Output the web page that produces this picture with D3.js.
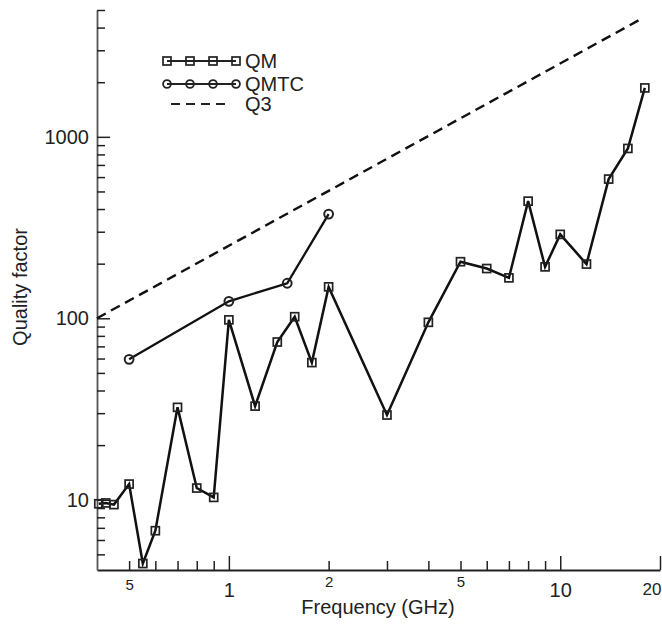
<!DOCTYPE html>
<html>
<head>
<meta charset="utf-8">
<script src="https://cdn.jsdelivr.net/npm/d3@7"></script>
<style>
  html, body { margin: 0; padding: 0; background: #fff; }
  svg { display: block; font-family: "Liberation Sans", Arial, Helvetica, sans-serif; }
</style>
</head>
<body>
<svg id="chart" width="662" height="635"></svg>
<script>
// ---- data ----
const qmFreq   = [0.405, 0.425, 0.45, 0.5, 0.55, 0.6, 0.7, 0.8, 0.9, 1.0, 1.2, 1.4, 1.58, 1.78, 2.0, 3.0, 4.0, 5.0, 6.0, 7.0, 8.0, 9.0, 10, 12, 14, 16, 18];
const qmValues = [9.5, 9.6, 9.4, 12.2, 4.45, 6.75, 32.3, 11.6, 10.3, 98, 32.8, 74, 102, 57, 149, 29.3, 95, 205, 188, 167, 442, 192, 290, 199, 585, 863, 1860];

const qmtcFreq   = [0.5, 1.0, 1.5, 2.0];
const qmtcValues = [59.4, 124, 156, 375];

const q3Freq   = [0.4, 17.65];
const q3Values = [100, 4490];

const xTickValues = [0.5, 0.6, 0.7, 0.8, 0.9, 1, 2, 3, 4, 5, 6, 7, 8, 9, 10, 20];
const xTickLabels = {0.5: "5", 1: "1", 2: "2", 5: "5", 10: "10", 20: "20"};
const xMajor = [1, 10, 20];

const yTickValues = [5, 6, 7, 8, 9, 10, 20, 30, 40, 50, 60, 70, 80, 90, 100,
                     200, 300, 400, 500, 600, 700, 800, 900, 1000, 2000, 3000, 4000, 5000];
const yTickLabels = {10: "10", 100: "100", 1000: "1000"};

const legendItems = ["QM", "QMTC", "Q3"];

// ---- layout ----
const svg = d3.select("#chart");
const x = d3.scaleLog().domain([0.4, 20]).range([97, 660]);
const y = d3.scaleLog().domain([4.1, 5000]).range([570, 10]);

// axes
const xAxis = d3.axisBottom(x).tickValues(xTickValues).tickFormat(d => xTickLabels[d] || "").tickSizeOuter(0);
const gx = svg.append("g").attr("transform", "translate(0,570)").call(xAxis);
gx.select(".domain").attr("stroke", "#222").attr("stroke-width", 1.8);
gx.selectAll(".tick line")
  .attr("y2", d => xMajor.includes(d) ? -14 : -9)
  .attr("stroke", "#222").attr("stroke-width", 1.5);
gx.selectAll(".tick text")
  .attr("fill", "#222")
  .attr("y", d => (d === 1 || d === 10 || d === 20) ? 13 : (d === 0.5 ? 9 : 6))
  .style("font-size", d => (d === 1 || d === 10 || d === 20) ? "20px" : "15px");
// keep the last label inside the picture, against the right edge
gx.selectAll(".tick text").filter(d => d === 20)
  .attr("text-anchor", "end").attr("x", 661 - x(20)).style("font-size", "17px");

const yAxis = d3.axisLeft(y).tickValues(yTickValues).tickFormat(d => yTickLabels[d] || "").tickSizeOuter(0);
const gy = svg.append("g").attr("transform", "translate(97,0)").call(yAxis);
gy.select(".domain").attr("stroke", "#555").attr("stroke-width", 1.8);
gy.selectAll(".tick line")
  .attr("x2", d => yTickLabels[d] ? 13 : 8)
  .attr("stroke", "#222").attr("stroke-width", 1.5);
gy.selectAll(".tick text")
  .attr("x", -8)
  .attr("fill", "#222")
  .style("font-size", "20px");

// axis titles
svg.append("text")
  .attr("x", 378).attr("y", 614)
  .attr("text-anchor", "middle")
  .style("font-size", "20px").attr("fill", "#222")
  .text("Frequency (GHz)");
svg.append("text")
  .attr("transform", "translate(27,287) rotate(-90)")
  .attr("text-anchor", "middle")
  .style("font-size", "20px").attr("fill", "#222")
  .text("Quality factor");

// lines
const line = d3.line().x(d => x(d[0])).y(d => y(d[1]));
const q3 = d3.zip(q3Freq, q3Values);
const qm = d3.zip(qmFreq, qmValues);
const qmtc = d3.zip(qmtcFreq, qmtcValues);

svg.append("path").datum(q3).attr("d", line)
  .attr("fill", "none").attr("stroke", "#111").attr("stroke-width", 2.4)
  .attr("stroke-dasharray", "10,6");

svg.append("path").datum(qmtc).attr("d", line)
  .attr("fill", "none").attr("stroke", "#111").attr("stroke-width", 2.3);

svg.append("path").datum(qm).attr("d", line)
  .attr("fill", "none").attr("stroke", "#111").attr("stroke-width", 2.5);

// markers
svg.append("g").selectAll("rect").data(qm).join("rect")
  .attr("x", d => x(d[0]) - 4).attr("y", d => y(d[1]) - 4)
  .attr("width", 8).attr("height", 8)
  .attr("fill", "none").attr("stroke", "#222").attr("stroke-width", 1.7);

svg.append("g").selectAll("circle").data(qmtc).join("circle")
  .attr("cx", d => x(d[0])).attr("cy", d => y(d[1])).attr("r", 4.4)
  .attr("fill", "none").attr("stroke", "#222").attr("stroke-width", 2);

// legend
const lg = svg.append("g");
const legY = [61, 84, 104];
const legMarkX = [167, 190, 213, 236];
// QM
lg.append("line").attr("x1", 167).attr("x2", 236).attr("y1", legY[0]).attr("y2", legY[0])
  .attr("stroke", "#222").attr("stroke-width", 1.8);
lg.selectAll("rect.leg").data(legMarkX).join("rect").attr("class", "leg")
  .attr("x", d => d - 4).attr("y", legY[0] - 4).attr("width", 8).attr("height", 8)
  .attr("fill", "none").attr("stroke", "#222").attr("stroke-width", 1.7);
// QMTC
lg.append("line").attr("x1", 167).attr("x2", 236).attr("y1", legY[1]).attr("y2", legY[1])
  .attr("stroke", "#222").attr("stroke-width", 1.8);
lg.selectAll("circle.leg").data(legMarkX).join("circle").attr("class", "leg")
  .attr("cx", d => d).attr("cy", legY[1]).attr("r", 3.9)
  .attr("fill", "none").attr("stroke", "#222").attr("stroke-width", 1.8);
// Q3
lg.append("line").attr("x1", 171).attr("x2", 231).attr("y1", legY[2]).attr("y2", legY[2])
  .attr("stroke", "#222").attr("stroke-width", 2.2).attr("stroke-dasharray", "9,6");

lg.selectAll("text").data(legendItems).join("text")
  .attr("x", 245).attr("y", (d, i) => legY[i]).attr("dy", "0.36em")
  .style("font-size", "20px").attr("fill", "#222")
  .text(d => d);
</script>
</body>
</html>
